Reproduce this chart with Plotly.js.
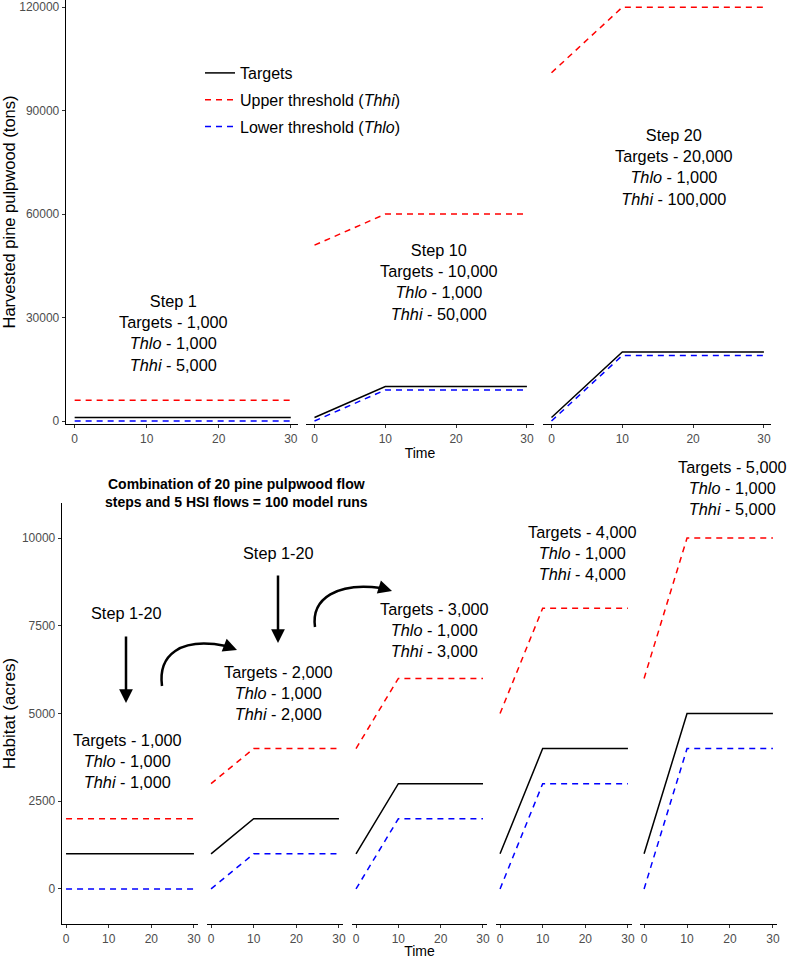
<!DOCTYPE html>
<html>
<head>
<meta charset="utf-8">
<script src="https://cdn.plot.ly/plotly-3.0.1.min.js"></script>
<style>html,body{margin:0;padding:0;background:#fff;}#chart{width:788px;height:959px;}</style>
</head>
<body>
<div id="chart"></div>
<script>
// ---------- DATA ----------
const timePts = [0, 10, 30];

// Top row: pine pulpwood flow steps
const pulpSteps = ['Step 1', 'Step 10', 'Step 20'];
const pulpTargets = [[1000, 1000, 1000], [1000, 10000, 10000], [1000, 20000, 20000]];
const pulpUpper = [[6000, 6000, 6000], [51000, 60000, 60000], [101000, 120000, 120000]];
const pulpLower = [[0, 0, 0], [0, 9000, 9000], [0, 19000, 19000]];
const pulpTargetTxt = ['1,000', '10,000', '20,000'];
const pulpThloTxt = ['1,000', '1,000', '1,000'];
const pulpThhiTxt = ['5,000', '50,000', '100,000'];
const pulpYTicks = [0, 30000, 60000, 90000, 120000];

// Bottom row: HSI (habitat) flows
const hsiTargets = [[1000, 1000, 1000], [1000, 2000, 2000], [1000, 3000, 3000], [1000, 4000, 4000], [1000, 5000, 5000]];
const hsiUpper = [[2000, 2000, 2000], [3000, 4000, 4000], [4000, 6000, 6000], [5000, 8000, 8000], [6000, 10000, 10000]];
const hsiLower = [[0, 0, 0], [0, 1000, 1000], [0, 2000, 2000], [0, 3000, 3000], [0, 4000, 4000]];
const hsiTargetTxt = ['1,000', '2,000', '3,000', '4,000', '5,000'];
const hsiThloTxt = ['1,000', '1,000', '1,000', '1,000', '1,000'];
const hsiThhiTxt = ['1,000', '2,000', '3,000', '4,000', '5,000'];
const hsiYTicks = [0, 2500, 5000, 7500, 10000];
const xTicks = [0, 10, 20, 30];

const seriesNames = ['Targets', 'Upper threshold (<i>Thhi</i>)', 'Lower threshold (<i>Thlo</i>)'];
const noteTitle = 'Combination of 20 pine pulpwood flow<br>steps and 5 HSI flows = 100 model runs';
const stepRangeTxt = 'Step 1-20';

// ---------- LAYOUT HELPERS ----------
const W = 788, H = 959;
const px = v => v / W;
const py = v => 1 - v / H;
const FONT = 'Liberation Sans, Arial, Helvetica, sans-serif';
const lineStyles = [
  {color: '#000000', width: 1.5, dash: 'solid'},
  {color: '#FF0000', width: 1.5, dash: '6px,5px'},
  {color: '#0000FF', width: 1.5, dash: '6px,5px'}
];

const topDomains = [[66, 298], [306, 534], [543, 771]];
const botDomains = [[62, 198], [207, 343], [352, 487], [496, 632], [640, 777]];

const traces = [];
function addPanel(xa, ya, tgt, up, lo, legend) {
  [tgt, up, lo].forEach((ys, k) => {
    traces.push({
      type: 'scatter', mode: 'lines', x: timePts, y: ys,
      xaxis: xa, yaxis: ya, name: seriesNames[k],
      legendgroup: 'g' + k, showlegend: legend,
      line: lineStyles[k], hoverinfo: 'skip'
    });
  });
}
pulpTargets.forEach((t, i) => addPanel(i === 0 ? 'x' : 'x' + (i + 1), 'y', t, pulpUpper[i], pulpLower[i], i === 0));
hsiTargets.forEach((t, j) => addPanel('x' + (j + 4), 'y2', t, hsiUpper[j], hsiLower[j], false));

const baseX = {
  showline: true, linecolor: '#000', linewidth: 1.3, ticks: 'outside', ticklen: 3,
  tickcolor: '#333', tickwidth: 1, tickvals: xTicks, showgrid: false, zeroline: false,
  tickfont: {family: FONT, size: 12, color: '#4D4D4D'}, automargin: false, fixedrange: true,
  ticklabeloverflow: 'allow'
};
const layout = {
  width: W, height: H, margin: {l: 0, r: 0, t: 0, b: 0},
  paper_bgcolor: '#fff', plot_bgcolor: 'rgba(0,0,0,0)',
  font: {family: FONT, size: 16, color: '#000'},
  showlegend: true,
  legend: {x: px(200), y: py(56), xanchor: 'left', yanchor: 'top', bgcolor: 'rgba(0,0,0,0)',
           font: {family: FONT, size: 16, color: '#000'}, tracegroupgap: 3, traceorder: 'grouped'},
  annotations: [], shapes: []
};
topDomains.forEach((d, i) => {
  const key = i === 0 ? 'xaxis' : 'xaxis' + (i + 1);
  layout[key] = Object.assign({}, baseX, {domain: [px(d[0]), px(d[1])], range: [-1.2, 31], anchor: 'y'});
});
layout.xaxis2.title = {text: 'Time', font: {family: FONT, size: 14, color: '#000'}, standoff: 3};
botDomains.forEach((d, j) => {
  layout['xaxis' + (j + 4)] = Object.assign({}, baseX, {domain: [px(d[0]), px(d[1])], range: [-0.95, 30.95], anchor: 'y2'});
});
layout.xaxis6.title = {text: 'Time', font: {family: FONT, size: 14, color: '#000'}, standoff: 3};

const baseY = {
  showline: true, linecolor: '#000', linewidth: 1.3, ticks: 'outside', ticklen: 3,
  tickcolor: '#333', showgrid: false, zeroline: false, automargin: false, fixedrange: true,
  tickformat: 'd', ticklabeloverflow: 'allow',
  tickfont: {family: FONT, size: 12, color: '#4D4D4D'}
};
layout.yaxis = Object.assign({}, baseY, {
  domain: [py(424), 1], range: [-870, 122100], anchor: 'x', tickvals: pulpYTicks,
  title: {text: 'Harvested pine pulpwood (tons)', font: {family: FONT, size: 16.5, color: '#000'}, standoff: 4}
});
layout.yaxis2 = Object.assign({}, baseY, {
  domain: [py(924), py(503)], range: [-1000, 11000], anchor: 'x4', tickvals: hsiYTicks,
  title: {text: 'Habitat (acres)', font: {family: FONT, size: 17, color: '#000'}, standoff: 6}
});

// ---------- TEXT ANNOTATIONS ----------
function txt(x, y, text, extra) {
  layout.annotations.push(Object.assign({
    xref: 'paper', yref: 'paper', x: px(x), y: py(y), text: text, showarrow: false,
    xanchor: 'center', yanchor: 'middle', align: 'center',
    font: {family: FONT, size: 16.3, color: '#000'}
  }, extra || {}));
}
const topCenters = [[173, 333.5], [439, 281.5], [674, 167.5]];
pulpSteps.forEach((s, i) => {
  txt(topCenters[i][0], topCenters[i][1],
    s + '<br>Targets - ' + pulpTargetTxt[i] + '<br><i>Thlo</i> - ' + pulpThloTxt[i] + '<br><i>Thhi</i> - ' + pulpThhiTxt[i]);
});
const botCenters = [[128, 761], [278, 693], [434, 630], [582, 553], [732, 488]];
hsiTargetTxt.forEach((t, j) => {
  txt(botCenters[j][0], botCenters[j][1],
    'Targets - ' + t + '<br><i>Thlo</i> - ' + hsiThloTxt[j] + '<br><i>Thhi</i> - ' + hsiThhiTxt[j]);
});
txt(126, 613, stepRangeTxt);
txt(278, 553, stepRangeTxt);
txt(236.5, 493, '<b>' + noteTitle + '</b>', {font: {family: FONT, size: 14, color: '#000'}});

// ---------- ARROWS ----------
function arrow(tipX, tipY, ax, ay) {
  layout.annotations.push({
    xref: 'paper', yref: 'paper', x: px(tipX), y: py(tipY), text: '', showarrow: true,
    ax: ax, ay: ay, axref: 'pixel', ayref: 'pixel', arrowhead: 2, arrowsize: 1.1, arrowwidth: 2.5,
    arrowcolor: '#000', standoff: 0, startstandoff: 0
  });
}
arrow(126, 703, 0, -68);
arrow(278, 643, 0, -69);
function curve(pts) {
  const p = pts.map(([a, b]) => px(a) + ',' + py(b));
  layout.shapes.push({
    type: 'path', xref: 'paper', yref: 'paper',
    path: 'M' + p[0] + ' C' + p[1] + ' ' + p[2] + ' ' + p[3],
    line: {color: '#000', width: 2.5}
  });
}
curve([[162, 686], [158, 655], [180, 637], [226, 646]]);
arrow(237, 650, -13, -5);
curve([[315, 627], [311, 598], [338, 582], [381, 588]]);
arrow(392, 591, -13, -4);

Plotly.newPlot('chart', traces, layout, {displayModeBar: false, staticPlot: true});
</script>
</body>
</html>
